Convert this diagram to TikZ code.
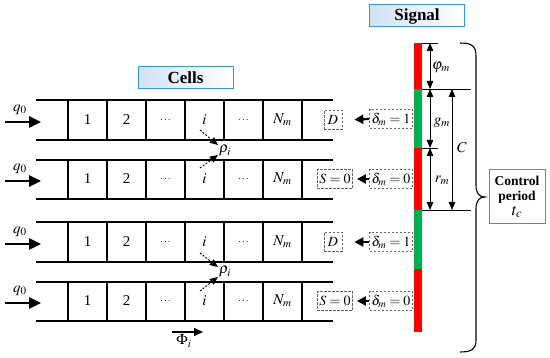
\documentclass[tikz,border=0pt]{standalone}
\usepackage{mathptmx}
\usepackage{fontspec}
\setmainfont{Liberation Serif}
\usetikzlibrary{arrows.meta,calc}
\definecolor{boxblue}{RGB}{60,150,210}
\definecolor{shadeblue}{RGB}{210,225,245}
\definecolor{sigred}{RGB}{255,0,0}
\definecolor{siggreen}{RGB}{0,176,80}
\tikzset{
  laneline/.style={line width=1.5pt},
  bigarrow/.style={line width=2.6pt,-{Triangle[length=12pt,width=11pt]}},
  sigarrow/.style={line width=2.2pt,-{Triangle[length=9pt,width=9pt]}},
  dimarrow/.style={line width=0.9pt,{Triangle[length=8pt,width=6.5pt]}-{Triangle[length=8pt,width=6.5pt]}},
  dimline/.style={line width=0.9pt},
  dasharrow/.style={line width=0.9pt,dashed,dash pattern=on 2pt off 1.5pt,-{Triangle[length=8pt,width=7pt]}},
  celltext/.style={font=\fontsize{15}{17}\selectfont,inner sep=0pt},
  dashbox/.style={draw=gray!80!black,dashed,dash pattern=on 2.5pt off 1.5pt,line width=0.7pt,inner sep=2pt,minimum height=19pt,font=\fontsize{14}{16}\selectfont},
  titlebox/.style={draw=boxblue,line width=1pt,left color=shadeblue,right color=white,minimum width=95pt,minimum height=22pt,font=\fontsize{17}{19}\selectfont\bfseries,inner sep=0pt},
  mathlabel/.style={font=\fontsize{15}{17}\selectfont,inner sep=1pt}
}
\begin{document}
\begin{tikzpicture}[x=1pt,y=-1pt]
\useasboundingbox (0,0) rectangle (550,358);

% title boxes
\node[titlebox] (cells) at (185.5,78) {Cells};
\node[titlebox] (signal) at (417,16) {Signal};

% lanes
\foreach \l/\t/\b/\c in {1/100/140/120,2/160/199/179,3/222/262/242,4/282/321/301}{
  \draw[laneline] (36,\t) -- (333,\t);
  \draw[laneline] (36,\b) -- (333,\b);
  \foreach \x in {68,107,146,185,224,263,302}{
    \draw[laneline] (\x,\t) -- (\x,\b);
  }
  \node[celltext] (c\l a) at (87.5,\c) {1};
  \node[celltext] (c\l b) at (126.5,\c) {2};
  \node[celltext,font=\fontsize{10}{12}\selectfont] (c\l c) at (165.5,\c) {$\cdots$};
  \node[celltext] (c\l d) at (204.5,\c) {$i$};
  \node[celltext,font=\fontsize{10}{12}\selectfont] (c\l e) at (243.5,\c) {$\cdots$};
  \node[celltext] (c\l f) at (282.5,\c) {$N_m$};
  \coordinate (qa\l) at (5,\c+2);
  \coordinate (qb\l) at (41,\c+2);
  \draw[bigarrow] (qa\l) -- (qb\l);
  \node[mathlabel] (q\l) at (20,\c-10) {$q_0$};
}

% rho arrows
\node[mathlabel] (rho1) at (225,151) {$\rho_i$};
\coordinate (r1a) at (200,130);
\coordinate (r1b) at (200,168);
\draw[dasharrow] (r1a) -- (rho1.west |- 0,145);
\draw[dasharrow] (r1b) -- (rho1.west |- 0,155);
\node[mathlabel] (rho2) at (225,272) {$\rho_i$};
\coordinate (r2a) at (200,253);
\coordinate (r2b) at (200,291);
\draw[dasharrow] (r2a) -- (rho2.west |- 0,267);
\draw[dasharrow] (r2b) -- (rho2.west |- 0,277);

% Phi
\coordinate (pa) at (172,332);
\coordinate (pb) at (203,332);
\draw[line width=1.6pt,-{Triangle[length=9pt,width=8pt]}] (pa) -- (pb);
\node[mathlabel] (phi) at (184,341) {$\Phi_i$};

% right dashed boxes
\node[dashbox,minimum width=18pt] (s1) at (333,120) {$D$};
\node[dashbox] (d1) at (391,119) {$\delta_m=1$};
\node[dashbox] (s2) at (335,179) {$S=0$};
\node[dashbox] (d2) at (391,179) {$\delta_m=0$};
\node[dashbox,minimum width=18pt] (s3) at (333,242) {$D$};
\node[dashbox] (d3) at (391,242) {$\delta_m=1$};
\node[dashbox] (s4) at (335,301) {$S=0$};
\node[dashbox] (d4) at (391,301) {$\delta_m=0$};
\draw[sigarrow,shorten >=12pt] (d1.west) -- (s1.east);
\draw[sigarrow,shorten >=4pt] (d2.west) -- (s2.east);
\draw[sigarrow,shorten >=12pt] (d3.west) -- (s3.east);
\draw[sigarrow,shorten >=4pt] (d4.west) -- (s4.east);

% signal bar
\fill[sigred] (414,43) rectangle (422,89);
\fill[siggreen] (414,89) rectangle (422,148);
\fill[sigred] (414,148) rectangle (422,210);
\fill[siggreen] (414,210) rectangle (422,269);
\fill[sigred] (414,269) rectangle (422,332);

% dimension lines
\coordinate (h1a) at (422,43);  \coordinate (h1b) at (438,43);
\coordinate (h2a) at (422,89);  \coordinate (h2b) at (471,89);
\coordinate (h3a) at (422,148); \coordinate (h3b) at (438,148);
\coordinate (h4a) at (422,210); \coordinate (h4b) at (471,210);
\draw[dimline] (h1a) -- (h1b);
\draw[dimline] (h2a) -- (h2b);
\draw[dimline] (h3a) -- (h3b);
\draw[dimline] (h4a) -- (h4b);
\coordinate (v1) at (430,43);
\coordinate (v2) at (430,89);
\coordinate (v3) at (430,148);
\coordinate (v4) at (430,210);
\coordinate (w1) at (452,89);
\coordinate (w2) at (452,210);
\draw[dimarrow] (v1) -- (v2);
\draw[dimarrow] (v2) -- (v3);
\draw[dimarrow] (v3) -- (v4);
\draw[dimarrow] (w1) -- (w2);
\node[mathlabel] (phim) at (441,67) {$\varphi_m$};
\node[mathlabel] (gm) at (442,123) {$g_m$};
\node[mathlabel] (rm) at (442,180) {$r_m$};
\node[mathlabel] (cc) at (462,148) {$C$};

% brace
\draw[line width=1.1pt] (460,43) .. controls (472,43) and (476,46) .. (476,56)
  -- (476,185) .. controls (476,193) and (479,197) .. (485,197)
  .. controls (479,197) and (476,201) .. (476,209)
  -- (476,340) .. controls (476,349) and (472,352) .. (460,352);

% control period box
\node[draw=boxblue,line width=1pt,fill=white,minimum width=56pt,minimum height=54pt,inner sep=1pt,align=center,font=\fontsize{13.5}{15}\selectfont\bfseries] (ctrl) at (517,197) {Control\\period\\{\fontsize{17}{17}\selectfont$t_c$}};
\end{tikzpicture}
\end{document}
